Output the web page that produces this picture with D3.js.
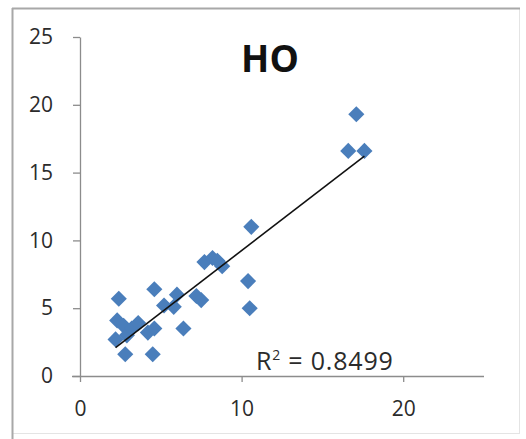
<!DOCTYPE html>
<html><head><meta charset="utf-8">
<script src="https://cdn.jsdelivr.net/npm/d3@7"></script>
<style>html,body{margin:0;padding:0;background:#fff;} svg{display:block;font-family:"Open Sans",sans-serif;}</style>
</head><body>
<svg id="c" width="526" height="439"></svg>
<script>
const title = "HO";
const xVals = [2.4, 2.3, 2.7, 2.2, 2.8, 2.9, 3.2, 3.6, 4.2, 4.6, 4.5, 4.6, 5.2, 5.8, 6.0, 6.4, 7.2, 7.5, 7.7, 8.2, 8.5, 8.8, 10.4, 10.5, 10.6, 16.6, 17.1, 17.6];
const yVals = [5.7, 4.1, 3.7, 2.7, 1.6, 3.0, 3.5, 3.9, 3.2, 3.5, 1.6, 6.4, 5.2, 5.1, 6.0, 3.5, 5.9, 5.6, 8.4, 8.7, 8.5, 8.1, 7.0, 5.0, 11.0, 16.6, 19.3, 16.6];
const xTicks = [0, 10, 20];
const yTicks = [0, 5, 10, 15, 20, 25];
const trendSlope = 0.917, trendIntercept = 0.08;
const r2Label = "0.8499";

const svg = d3.select("#c");
// chart frame
svg.append("rect").attr("x",12.5).attr("y",8.5).attr("width",507).attr("height",425)
  .attr("fill","none").attr("stroke","#e4e4e4").attr("stroke-width",1);
svg.append("line").attr("x1",12).attr("x2",520).attr("y1",8.5).attr("y2",8.5).attr("stroke","#a8a8a8").attr("stroke-width",2);
svg.append("line").attr("x1",12.5).attr("x2",12.5).attr("y1",8).attr("y2",439).attr("stroke","#a8a8a8").attr("stroke-width",2);

const x = d3.scaleLinear().domain([0,25]).range([80,484]);
const y = d3.scaleLinear().domain([0,25]).range([376,37]);

// y axis
const ya = svg.append("g").attr("transform","translate(80,0)")
  .call(d3.axisLeft(y).tickValues(yTicks).tickSize(7).tickPadding(20).tickSizeOuter(0));
ya.select(".domain").attr("stroke","#8c8c8c").attr("stroke-width",1.3);
ya.selectAll(".tick line").attr("stroke","#8c8c8c").attr("stroke-width",1.3);
ya.selectAll("text").attr("font-size",21).attr("fill","#2b2b2b").attr("font-family","'Open Sans',sans-serif");

// x axis
const xa = svg.append("g").attr("transform","translate(0,376)")
  .call(d3.axisBottom(x).tickValues(xTicks).tickSize(6).tickPadding(19).tickSizeOuter(0));
xa.select(".domain").attr("stroke","#8c8c8c").attr("stroke-width",1.3).attr("d","M72,0.5H484");
xa.selectAll(".tick line").attr("stroke","#8c8c8c").attr("stroke-width",1.3);
xa.selectAll("text").attr("font-size",21).attr("fill","#2b2b2b").attr("font-family","'Open Sans',sans-serif");

// points
const pts = xVals.map((v,i)=>({x:v,y:yVals[i]}));
const sym = d3.symbol().type(d3.symbolSquare).size(130);
svg.append("g").selectAll("path").data(pts).join("path")
  .attr("d", sym)
  .attr("transform", d=>`translate(${x(d.x)},${y(d.y)}) rotate(45)`)
  .attr("fill","#4a7ebb");

// trendline
const xmin = d3.min(xVals), xmax = d3.max(xVals);
svg.append("line")
  .attr("x1",x(xmin)).attr("y1",y(trendSlope*xmin+trendIntercept))
  .attr("x2",x(xmax)).attr("y2",y(trendSlope*xmax+trendIntercept))
  .attr("stroke","#111").attr("stroke-width",1.6);

// title
svg.append("text").attr("x",270).attr("y",72).attr("text-anchor","middle")
  .attr("font-size",37).attr("font-weight","bold").attr("fill","#111").text(title);

// R2 label
const rt = svg.append("text").attr("x",256).attr("y",370).attr("font-size",25).attr("fill","#2b2b2b").attr("letter-spacing",0.8);
rt.append("tspan").text("R");
rt.append("tspan").attr("dy",-10).attr("font-size",14).text("2");
rt.append("tspan").attr("dy",10).text(" = " + r2Label);
</script>
</body></html>
